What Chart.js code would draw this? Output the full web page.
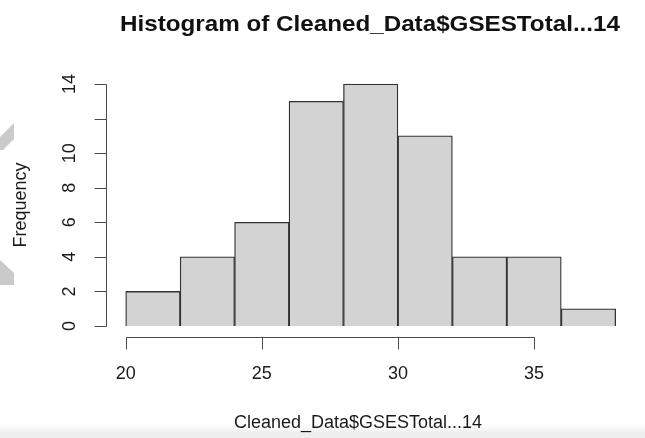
<!DOCTYPE html>
<html>
<head>
<meta charset="utf-8">
<script src="https://cdn.jsdelivr.net/npm/chart.js@4/dist/chart.umd.min.js"></script>
<style>
  html, body { margin: 0; padding: 0; background: #ffffff; }
  canvas { display: block; }
</style>
</head>
<body>
<canvas id="hist" width="645" height="438"></canvas>
<script>
// Histogram bins (edges) and counts
const binEdges = [20, 22, 24, 26, 28, 30, 32, 34, 36, 38];
const counts = [2, 4, 6, 13, 14, 11, 4, 4, 1];

// Axis ticks and labels (R drops the "12" label because it would overlap)
const xTicks = [20, 25, 30, 35];
const xTickLabels = ['20', '25', '30', '35'];
const yTicks = [0, 2, 4, 6, 8, 10, 12, 14];
const yTickLabels = ['0', '2', '4', '6', '8', '10', '', '14'];

const titleText = 'Histogram of Cleaned_Data$GSESTotal...14';
const xTitle = 'Cleaned_Data$GSESTotal...14';
const yTitle = 'Frequency';

const bars = counts.map((c, i) => ({ x: (binEdges[i] + binEdges[i + 1]) / 2, y: c }));

const FONT = '"Liberation Sans", Arial, Helvetica, sans-serif';
const AXIS_COLOR = '#4a4a4a';

// Draws base-R style detached axes, labels and title
const baseAxes = {
  id: 'baseAxes',
  beforeDraw(chart) {
    const ctx = chart.ctx;
    ctx.save();
    ctx.fillStyle = '#ffffff';
    ctx.fillRect(0, 0, chart.width, chart.height);
    const g = ctx.createLinearGradient(0, 425, 0, 433);
    g.addColorStop(0, 'rgba(238,238,238,0)');
    g.addColorStop(1, 'rgba(238,238,238,1)');
    ctx.fillStyle = g;
    ctx.fillRect(0, 425, chart.width, chart.height - 425);
    // faint grey marks at the left edge
    ctx.fillStyle = '#cacaca';
    ctx.beginPath();
    ctx.moveTo(0, 137); ctx.lineTo(14, 123); ctx.lineTo(14, 139); ctx.lineTo(3, 150); ctx.lineTo(0, 150);
    ctx.closePath(); ctx.fill();
    ctx.beginPath();
    ctx.moveTo(0, 260); ctx.lineTo(14, 273); ctx.lineTo(14, 285); ctx.lineTo(0, 285);
    ctx.closePath(); ctx.fill();
    ctx.restore();
  },
  afterDraw(chart) {
    const ctx = chart.ctx;
    const xs = chart.scales.x, ys = chart.scales.y;
    const area = chart.chartArea;
    const axisY = ys.getPixelForValue(0) + 11;
    const axisX = xs.getPixelForValue(binEdges[0]) - 20;
    const tick = 12;
    ctx.save();
    ctx.strokeStyle = AXIS_COLOR;
    ctx.lineWidth = 1;

    // x axis
    const x0 = Math.round(xs.getPixelForValue(xTicks[0])) + 0.5;
    const x1 = Math.round(xs.getPixelForValue(xTicks[xTicks.length - 1])) + 0.5;
    const ay = Math.round(axisY) + 0.5;
    ctx.beginPath();
    ctx.moveTo(x0, ay); ctx.lineTo(x1, ay);
    xTicks.forEach(v => {
      const px = Math.round(xs.getPixelForValue(v)) + 0.5;
      ctx.moveTo(px, ay); ctx.lineTo(px, ay + tick);
    });
    ctx.stroke();

    // y axis
    const ax = Math.round(axisX) + 0.5;
    const y0 = Math.round(ys.getPixelForValue(yTicks[0])) + 0.5;
    const y1 = Math.round(ys.getPixelForValue(yTicks[yTicks.length - 1])) + 0.5;
    ctx.beginPath();
    ctx.moveTo(ax, y0); ctx.lineTo(ax, y1);
    yTicks.forEach(v => {
      const py = Math.round(ys.getPixelForValue(v)) + 0.5;
      ctx.moveTo(ax, py); ctx.lineTo(ax - tick, py);
    });
    ctx.stroke();

    // tick labels
    ctx.fillStyle = '#1a1a1a';
    ctx.font = '18px ' + FONT;
    ctx.textAlign = 'center';
    ctx.textBaseline = 'middle';
    xTicks.forEach((v, i) => {
      ctx.fillText(xTickLabels[i], xs.getPixelForValue(v), ay + 37);
    });
    yTicks.forEach((v, i) => {
      if (!yTickLabels[i]) return;
      ctx.save();
      ctx.translate(ax - 36, ys.getPixelForValue(v));
      ctx.rotate(-Math.PI / 2);
      ctx.fillText(yTickLabels[i], 0, 0);
      ctx.restore();
    });

    // axis titles
    ctx.fillText(xTitle, 358, 423);
    ctx.save();
    ctx.translate(21, (area.top + area.bottom) / 2);
    ctx.rotate(-Math.PI / 2);
    ctx.fillText(yTitle, 0, 0);
    ctx.restore();

    // main title
    ctx.font = 'bold 22px ' + FONT;
    ctx.fillStyle = '#111111';
    const w = ctx.measureText(titleText).width;
    const target = 500;
    ctx.save();
    ctx.translate(370, 25);
    ctx.scale(target / w, 1);
    ctx.fillText(titleText, 0, 0);
    ctx.restore();

    ctx.restore();
  }
};

new Chart(document.getElementById('hist'), {
  type: 'bar',
  data: {
    datasets: [{
      data: bars,
      backgroundColor: '#d3d3d3',
      borderColor: '#333333',
      borderWidth: 1.3,
      barPercentage: 1,
      categoryPercentage: 1,
      clip: false
    }]
  },
  options: {
    responsive: false,
    animation: false,
    devicePixelRatio: 1,
    layout: { padding: { left: 125.7, right: 29.3, top: 84, bottom: 112 } },
    scales: {
      x: { type: 'linear', min: 20, max: 38, offset: false, display: false, ticks: { stepSize: 2 } },
      y: { type: 'linear', min: 0, max: 14, display: false, ticks: { stepSize: 2 } }
    },
    plugins: { legend: { display: false }, tooltip: { enabled: false }, title: { display: false } }
  },
  plugins: [baseAxes]
});
</script>
</body>
</html>
